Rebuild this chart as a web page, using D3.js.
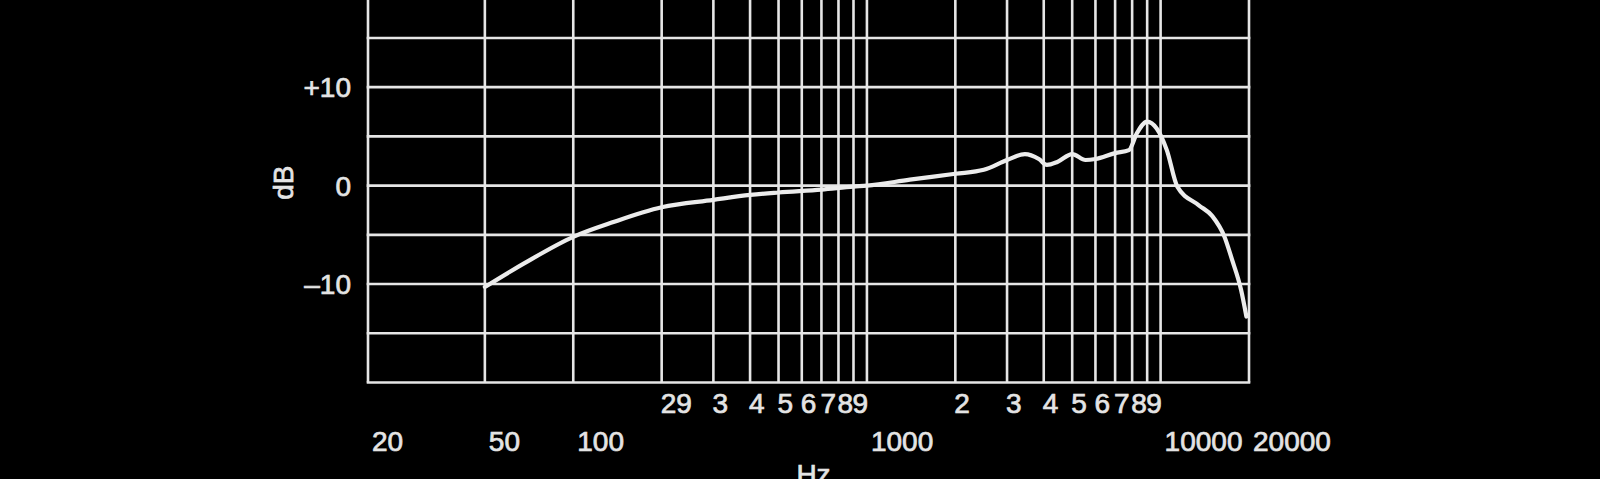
<!DOCTYPE html>
<html>
<head>
<meta charset="utf-8">
<script src="https://cdn.jsdelivr.net/npm/d3@7"></script>
<style>
  html, body { margin: 0; padding: 0; background: #000; }
  svg { display: block; }
  text { font-family: "Liberation Sans", Arial, sans-serif; fill: #e4e4e4; stroke: #e4e4e4; stroke-width: 0.7px; }
</style>
</head>
<body>
<script>
// ---- data ----
const freqHz = [50, 68, 100, 137, 200, 300, 400, 500, 700, 900, 1000, 1400, 2000, 2500, 3000, 3450, 3850, 4100, 4450, 5000, 5550, 6000, 7000, 7800, 8300, 9000, 9700, 10500, 11400, 13500, 15000, 16500, 17500, 18800, 19600];
const responseDb = [-10.3, -7.9, -5.2, -3.7, -2.2, -1.45, -0.95, -0.7, -0.4, -0.1, 0.0, 0.6, 1.2, 1.6, 2.6, 3.2, 2.7, 2.1, 2.4, 3.2, 2.6, 2.7, 3.3, 3.6, 5.3, 6.5, 5.8, 3.6, -0.1, -2.0, -3.1, -5.2, -7.5, -10.6, -13.3];

const gridFreqs = [20, 50, 100, 200, 300, 400, 500, 600, 700, 800, 900, 1000, 2000, 3000, 4000, 5000, 6000, 7000, 8000, 9000, 10000, 20000];
const gridDb = [-20, -15, -10, -5, 0, 5, 10, 15, 20];

const yTickValues = [10, 0, -10];
const yTickText = ["+10", "0", "\u201310"];

const topTickValues = [200, 300, 400, 500, 600, 700, 800, 900, 2000, 3000, 4000, 5000, 6000, 7000, 8000, 9000];
const topTickText = ["29", "3", "4", "5", "6", "7", "8", "9", "2", "3", "4", "5", "6", "7", "8", "9"];

const bottomTickValues = [20, 50, 100, 1000, 10000, 20000];
const bottomTickText = ["20", "50", "100", "1000", "10000", "20000"];

const xTitle = "Hz";
const yTitle = "dB";

// ---- layout ----
const W = 1600, H = 479;
const plotLeft = 368, plotRight = 1249;
const plotBottom = 382.5, plotTop = -11.3;
const lineColor = "#e6e6e6";
const fontSize = 28;

const svg = d3.select("body").append("svg")
  .attr("width", W).attr("height", H)
  .style("background", "#000");

const x = d3.scaleLog().domain([20, 20000]).range([plotLeft, plotRight]);
const y = d3.scaleLinear().domain([-20, 20]).range([plotBottom, plotTop]);

// grid
const grid = svg.append("g");
grid.selectAll("line.v").data(gridFreqs).join("line")
  .attr("class", "v")
  .attr("x1", d => x(d)).attr("x2", d => x(d))
  .attr("y1", y(-20)).attr("y2", y(20))
  .attr("stroke", lineColor).attr("stroke-width", 2.6);
grid.selectAll("line.h").data(gridDb).join("line")
  .attr("class", "h")
  .attr("x1", x(20) - 1.3).attr("x2", x(20000) + 1.3)
  .attr("y1", d => y(d)).attr("y2", d => y(d))
  .attr("stroke", lineColor).attr("stroke-width", 2.6);

// curve
const pts = freqHz.map((f, i) => [f, responseDb[i]]);
const line = d3.line()
  .x(d => x(d[0])).y(d => y(d[1]))
  .curve(d3.curveMonotoneX);
svg.append("path").datum(pts)
  .attr("d", line)
  .attr("fill", "none")
  .attr("stroke", "#ececec")
  .attr("stroke-width", 4.2)
  .attr("stroke-linejoin", "round")
  .attr("stroke-linecap", "round");

// y tick labels
svg.append("g").selectAll("text").data(yTickValues).join("text")
  .attr("x", plotLeft - 17)
  .attr("y", d => y(d))
  .attr("dy", "0.36em")
  .attr("text-anchor", "end")
  .attr("font-size", fontSize)
  .text((d, i) => yTickText[i]);

// y title
svg.append("text")
  .attr("transform", `translate(${plotLeft - 75},${y(0) - 3}) rotate(-90)`)
  .attr("text-anchor", "middle")
  .attr("font-size", fontSize)
  .text(yTitle);

// x top-row labels
svg.append("g").selectAll("text").data(topTickValues).join("text")
  .attr("x", d => x(d) - 1)
  .attr("y", plotBottom + 30)
  .attr("text-anchor", "start")
  .attr("font-size", fontSize)
  .text((d, i) => topTickText[i]);

// x bottom-row labels
svg.append("g").selectAll("text").data(bottomTickValues).join("text")
  .attr("x", d => x(d) + 4)
  .attr("y", plotBottom + 68)
  .attr("text-anchor", "start")
  .attr("font-size", fontSize)
  .text((d, i) => bottomTickText[i]);

// x title (cut off at the bottom edge, as in the reference)
svg.append("text")
  .attr("x", (plotLeft + plotRight) / 2 + 5)
  .attr("y", plotBottom + 101)
  .attr("text-anchor", "middle")
  .attr("font-size", fontSize)
  .text(xTitle);
</script>
</body>
</html>
